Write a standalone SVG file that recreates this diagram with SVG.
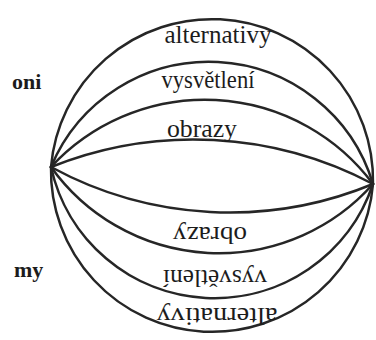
<svg xmlns="http://www.w3.org/2000/svg" width="376" height="340" viewBox="0 0 376 340">
<style>
.arc{fill:none;stroke:#262626;stroke-width:2.5;stroke-linecap:round}
.lbl{font-family:"Liberation Serif","Times New Roman",serif;font-size:25px;fill:#1c1c1c;text-anchor:middle}
.side{font-family:"Liberation Serif","Times New Roman",serif;font-size:22px;font-weight:bold;fill:#1c1c1c}
</style>
<rect width="376" height="340" fill="#ffffff"/>
<g id="connectors">
<path class="arc" d="M51,167 A161.3,161.3 0 0 1 373,184"/>
<path class="arc" d="M51,167 A171.2,171.2 0 0 1 373,184"/>
<path class="arc" d="M51,167 A209.8,209.8 0 0 1 373,184"/>
<path class="arc" d="M51,167 A383.7,383.7 0 0 1 373,184"/>
<path class="arc" d="M51,167 A374.2,374.2 0 0 0 373,184"/>
<path class="arc" d="M51,167 A206.4,206.4 0 0 0 373,184"/>
<path class="arc" d="M51,167 A167.3,167.3 0 0 0 373,184"/>
<path class="arc" d="M51,167 A161.3,161.3 0 0 0 373,184"/>
</g>
<g id="oni"><text class="side" x="12" y="89">oni</text></g>
<g id="my"><text class="side" x="14" y="277">my</text></g>
<g id="top-alternativy"><text class="lbl" x="218" y="43" textLength="107" lengthAdjust="spacingAndGlyphs">alternativy</text></g>
<g id="top-vysvetleni"><text class="lbl" x="208" y="88" textLength="93" lengthAdjust="spacingAndGlyphs">vysvětlení</text></g>
<g id="top-obrazy"><text class="lbl" x="202" y="137" textLength="70" lengthAdjust="spacingAndGlyphs">obrazy</text></g>
<g id="bottom-obrazy"><text class="lbl" transform="translate(210,227) rotate(180)" x="0" y="0" textLength="74" lengthAdjust="spacingAndGlyphs">obrazy</text></g>
<g id="bottom-vysvetleni"><text class="lbl" transform="translate(215,270) rotate(180)" x="0" y="0" textLength="104" lengthAdjust="spacingAndGlyphs">vysvětlení</text></g>
<g id="bottom-alternativy"><text class="lbl" transform="translate(217,308) rotate(180)" x="0" y="0" textLength="121" lengthAdjust="spacingAndGlyphs">alternativy</text></g>
</svg>
